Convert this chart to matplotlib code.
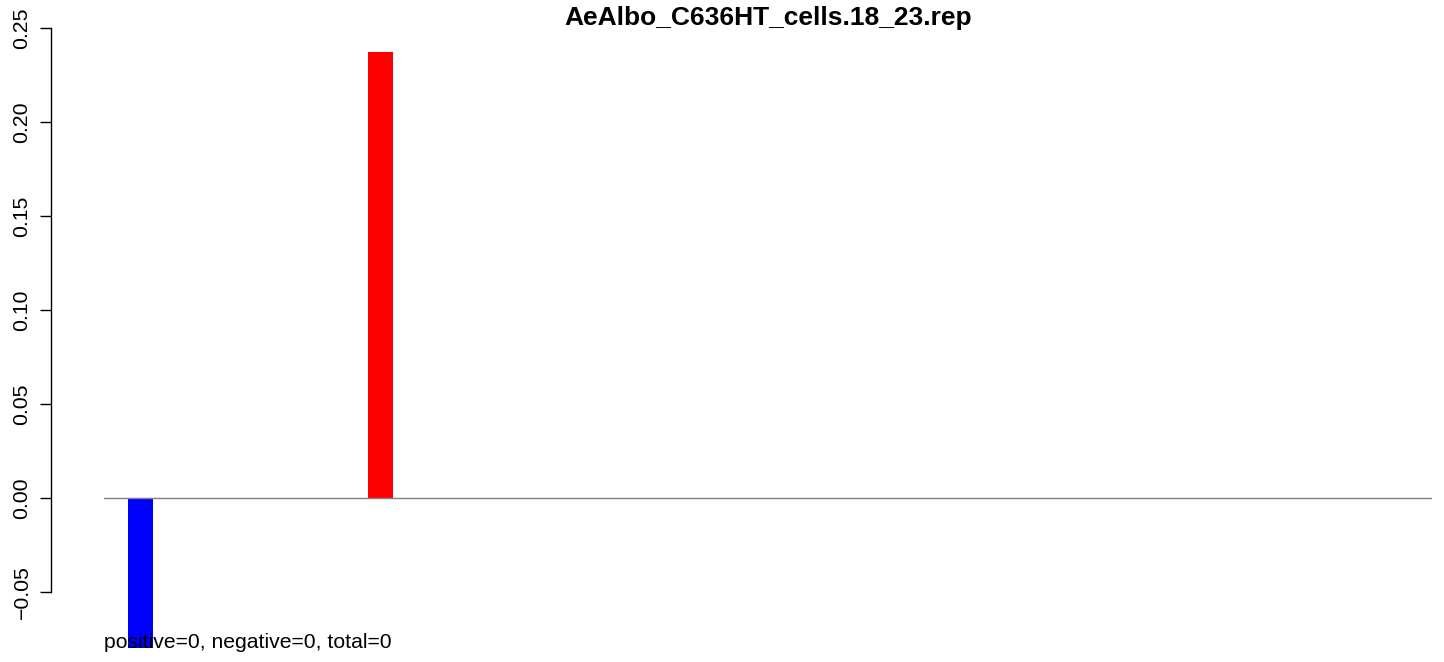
import matplotlib
matplotlib.use("Agg")
import matplotlib.pyplot as plt

plt.rcParams['font.family'] = ['Liberation Sans', 'DejaVu Sans']

title = "AeAlbo_C636HT_cells.18_23.rep"
note = "positive=0, negative=0, total=0"
bar_pos = [0, 8]
bar_vals = [-0.080, 0.237]
bar_cols = ["#0000ff", "#ff0000"]
yticks = [-0.05, 0.00, 0.05, 0.10, 0.15, 0.20, 0.25]
ytick_labels = ["\u22120.05", "0.00", "0.05", "0.10", "0.15", "0.20", "0.25"]

fig = plt.figure(figsize=(14.44, 6.62), dpi=100)
ax = fig.add_axes([104/1444, 0.0773, 1328/1444, 0.9088])

ax.bar(bar_pos, bar_vals, width=0.833, color=bar_cols, clip_on=False, zorder=2)
ax.axhline(0, color="#808080", lw=1, zorder=3)

ax.set_xlim(-1.217, 43.05)
ax.set_ylim(-0.06, 0.26)

for s in ["top", "right", "bottom"]:
    ax.spines[s].set_visible(False)
ax.spines["left"].set_bounds(-0.05, 0.25)
ax.spines["left"].set_position(("outward", 38.2))
ax.spines["left"].set_linewidth(1)
ax.set_xticks([])
ax.set_yticks(yticks)
ax.set_yticklabels(ytick_labels, rotation=90, va="center")
ax.tick_params(axis="y", length=8, width=1, pad=6, labelsize=15.3)

fig.text(768/1444, 1 - 18/662, title, ha="center", va="center",
         fontsize=19, fontweight="bold")
fig.text(104/1444, 1 - 642/662, note, ha="left", va="center", fontsize=15.2,
         zorder=5)

fig.savefig("out.png", dpi=100)
